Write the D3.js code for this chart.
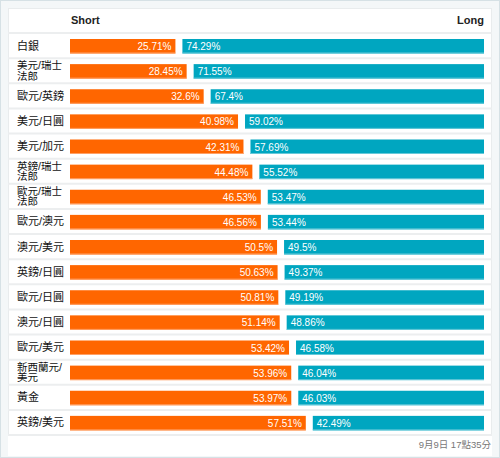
<!DOCTYPE html>
<html><head><meta charset="utf-8">
<script src="https://cdn.jsdelivr.net/npm/d3@7"></script>
<style>
html,body{margin:0;padding:0;background:#fff;}
svg{display:block;font-family:"Liberation Sans","Noto Sans CJK TC",Arial,sans-serif;}
</style></head>
<body>
<svg id="chart" width="500" height="458"></svg>
<script>
const categories = ["白銀","美元/瑞士法郎","歐元/英鎊","美元/日圓","美元/加元","英鎊/瑞士法郎","歐元/瑞士法郎","歐元/澳元","澳元/美元","英鎊/日圓","歐元/日圓","澳元/日圓","歐元/美元","新西蘭元/美元","黃金","英鎊/美元"];
const shortValues = [25.71,28.45,32.6,40.98,42.31,44.48,46.53,46.56,50.5,50.63,50.81,51.14,53.42,53.96,53.97,57.51];
const longValues  = [74.29,71.55,67.4,59.02,57.69,55.52,53.47,53.44,49.5,49.37,49.19,48.86,46.58,46.04,46.03,42.49];
const seriesNames = ["Short","Long"];
const timestamp = "9月9日 17點35分";

const svg = d3.select("#chart");
const W = 500, H = 458;
// outer frame
svg.append("rect").attr("x",0.5).attr("y",0.5).attr("width",W-1).attr("height",H-1)
  .attr("fill","#f4f7f8").attr("stroke","#d6e1e5");
svg.append("rect").attr("x",8).attr("y",8).attr("width",484).attr("height",448).attr("fill","#fff");
svg.append("rect").attr("x",8.5).attr("y",8.5).attr("width",483).attr("height",426)
  .attr("fill","none").attr("stroke","#e9eced");

const headerBottom = 33, rowTop = 33, rowsBottom = 435;
const y = d3.scaleBand().domain(categories).range([rowTop, rowsBottom]).paddingInner(0);
const barX0 = 70, barX1 = 484, gap = 7;
const x = d3.scaleLinear().domain([0,100]).range([0, 410]);

// header
svg.append("line").attr("x1",8).attr("x2",492).attr("y1",headerBottom).attr("y2",headerBottom)
  .attr("stroke","#eceeef").attr("stroke-width",2);
svg.append("text").attr("x",71).attr("y",24).attr("font-size",11).attr("font-weight","bold")
  .attr("fill","#222").text(seriesNames[0]);
svg.append("text").attr("x",barX1).attr("y",24).attr("font-size",11).attr("font-weight","bold")
  .attr("fill","#222").attr("text-anchor","end").text(seriesNames[1]);

const rows = svg.append("g").selectAll("g").data(categories).join("g")
  .attr("transform", d => `translate(0,${y(d)})`);

rows.append("line").attr("x1",8).attr("x2",492)
  .attr("y1", y.bandwidth()).attr("y2", y.bandwidth())
  .attr("stroke","#eceeef").attr("stroke-width",2);

const barTop = 6, barH = 14.5;
rows.append("rect").attr("x",barX0).attr("y",barTop)
  .attr("width",(d,i)=>x(shortValues[i])).attr("height",barH)
  .attr("fill","#ff6600");
rows.append("rect").attr("x",barX0).attr("y",barTop+barH-1)
  .attr("width",(d,i)=>x(shortValues[i])).attr("height",1)
  .attr("fill","#ffa066");
rows.append("rect").attr("x",(d,i)=>barX0+x(shortValues[i])+gap).attr("y",barTop)
  .attr("width",(d,i)=>barX1-(barX0+x(shortValues[i])+gap)).attr("height",barH)
  .attr("fill","#00a6c0");
rows.append("rect").attr("x",(d,i)=>barX0+x(shortValues[i])+gap).attr("y",barTop+barH-1)
  .attr("width",(d,i)=>barX1-(barX0+x(shortValues[i])+gap)).attr("height",1)
  .attr("fill","#66c9d9");

rows.append("text").attr("x",(d,i)=>barX0+x(shortValues[i])-4).attr("y",barTop+11)
  .attr("text-anchor","end").attr("font-size",10).attr("fill","#fff")
  .text((d,i)=>shortValues[i]+"%");
rows.append("text").attr("x",(d,i)=>barX0+x(shortValues[i])+gap+4).attr("y",barTop+11)
  .attr("font-size",10).attr("fill","#fff")
  .text((d,i)=>longValues[i]+"%");

// category labels with wrapping
const maxW = 50;
rows.each(function(d){
  const g = d3.select(this);
  const bw = y.bandwidth();
  const probe = g.append("text").attr("font-size",11).attr("visibility","hidden");
  const chars = Array.from(d);
  const lines = [];
  let cur = "";
  chars.forEach(c=>{
    probe.text(cur+c);
    if (cur && probe.node().getComputedTextLength() > maxW) { lines.push(cur); cur = c; }
    else cur += c;
  });
  lines.push(cur);
  probe.remove();
  if (lines.length === 1) {
    g.append("text").attr("x",17).attr("y", bw/2 + 4).attr("font-size",11).attr("fill","#111").text(lines[0]);
  } else {
    const lh = 10.5, fs = 10.5;
    lines.forEach((l,k)=>{
      g.append("text").attr("x",17).attr("font-size",fs).attr("fill","#111")
        .attr("y", bw/2 - (lines.length-1)*lh/2 + k*lh + 3.8).text(l);
    });
  }
});

svg.append("text").attr("x",491).attr("y",448).attr("text-anchor","end")
  .attr("font-size",9.5).attr("fill","#777").text(timestamp);
</script>
</body></html>
